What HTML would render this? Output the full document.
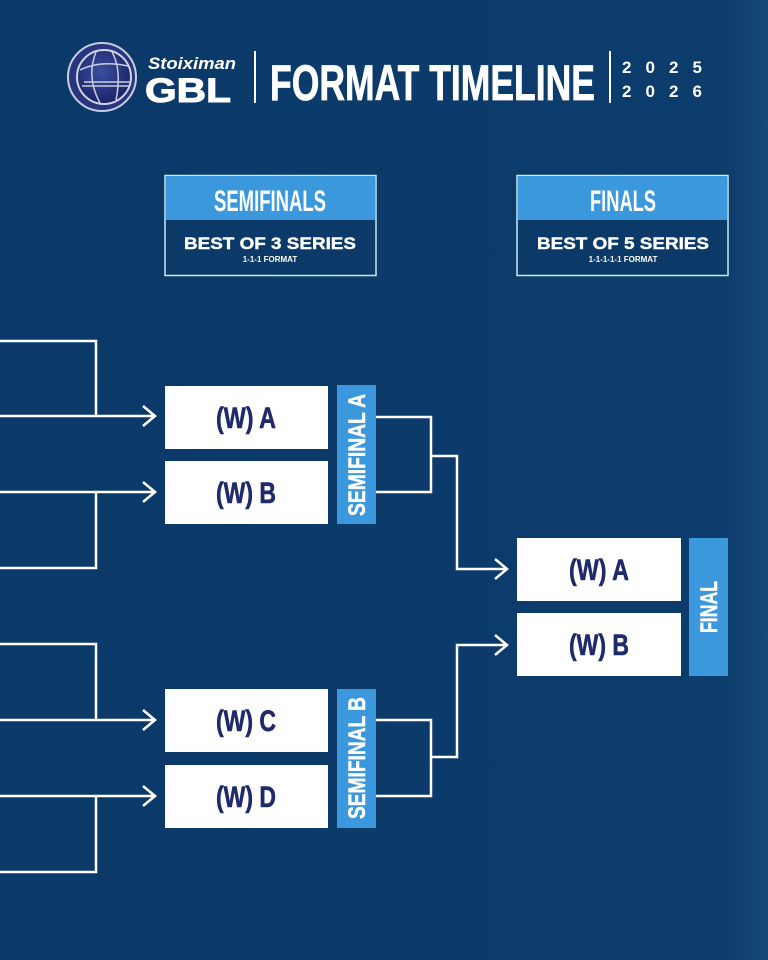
<!DOCTYPE html>
<html><head><meta charset="utf-8"><style>
html,body{margin:0;padding:0;background:#0b3a69;}
svg{display:block}
</style></head><body>
<svg width="768" height="960" viewBox="0 0 768 960" xmlns="http://www.w3.org/2000/svg">
<defs>
<linearGradient id="bg" x1="0" y1="0" x2="1" y2="0">
<stop offset="0" stop-color="#0b3a69"/><stop offset="0.94" stop-color="#0c3c6c"/><stop offset="1" stop-color="#164879"/>
</linearGradient>
<radialGradient id="ball" cx="0.45" cy="0.4" r="0.6">
<stop offset="0" stop-color="#3a4fa0"/><stop offset="1" stop-color="#1a2466"/>
</radialGradient>
</defs>
<rect width="768" height="960" fill="url(#bg)"/>

<!-- logo -->
<circle cx="102" cy="77" r="34" fill="#2a3580" stroke="#c9cde0" stroke-width="2"/>
<circle cx="104" cy="77" r="27" fill="url(#ball)" stroke="#d0d4e6" stroke-width="2"/>
<path d="M80 70 Q100 60 128 66 M82 86 L130 86 M84 82 L130 82 M96 52 Q86 77 100 103 M112 52 Q122 70 116 100" stroke="#c9cde0" stroke-width="1.5" fill="none"/>
<text x="192" y="69" font-family="Liberation Sans, sans-serif" font-weight="bold" font-style="italic" font-size="17" fill="#fff" text-anchor="middle" textLength="88" lengthAdjust="spacingAndGlyphs">Stoiximan</text>
<text x="188" y="102" font-family="Liberation Sans, sans-serif" font-weight="bold" font-size="34" fill="#fff" stroke="#fff" stroke-width="1" text-anchor="middle" textLength="86" lengthAdjust="spacingAndGlyphs">GBL</text>
<rect x="254" y="51" width="2" height="52" fill="#fff"/>
<text x="270" y="100" font-family="Liberation Sans, sans-serif" font-weight="bold" font-size="50" fill="#fff" stroke="#fff" stroke-width="0.8" textLength="325" lengthAdjust="spacingAndGlyphs">FORMAT TIMELINE</text>
<rect x="609" y="51" width="2" height="52" fill="#fff"/>
<text x="622" y="73" font-family="Liberation Sans, sans-serif" font-weight="bold" font-size="17" fill="#fff" textLength="80" lengthAdjust="spacing">2025</text>
<text x="622" y="97" font-family="Liberation Sans, sans-serif" font-weight="bold" font-size="17" fill="#fff" textLength="80" lengthAdjust="spacing">2026</text>

<!-- header boxes -->
<g font-family="Liberation Sans, sans-serif" fill="#fff" text-anchor="middle">
<rect x="165" y="175.5" width="211" height="100" fill="#0b3a69" stroke="#cfe6f7" stroke-width="1.5"/>
<rect x="166" y="176" width="209" height="44" fill="#3b98dd"/>
<text x="270" y="211" font-size="30" font-weight="bold" textLength="112" lengthAdjust="spacingAndGlyphs">SEMIFINALS</text>
<text x="270" y="249" font-size="17" font-weight="bold" stroke="#fff" stroke-width="0.4" textLength="172" lengthAdjust="spacingAndGlyphs">BEST OF 3 SERIES</text>
<text x="270" y="262" font-size="8" font-weight="bold">1-1-1 FORMAT</text>

<rect x="517" y="175.5" width="211" height="100" fill="#0b3a69" stroke="#cfe6f7" stroke-width="1.5"/>
<rect x="518" y="176" width="209" height="44" fill="#3b98dd"/>
<text x="623" y="211" font-size="30" font-weight="bold" textLength="66" lengthAdjust="spacingAndGlyphs">FINALS</text>
<text x="623" y="249" font-size="17" font-weight="bold" stroke="#fff" stroke-width="0.4" textLength="172" lengthAdjust="spacingAndGlyphs">BEST OF 5 SERIES</text>
<text x="623" y="262" font-size="8" font-weight="bold">1-1-1-1-1 FORMAT</text>
</g>

<!-- connectors -->
<g stroke="#fff" stroke-width="2.5" fill="none">
<polyline points="0,341 96,341 96,416"/>
<line x1="0" y1="416" x2="155" y2="416"/>
<polyline points="143,406 155,416 143,426"/>
<line x1="0" y1="492" x2="155" y2="492"/>
<polyline points="143,482 155,492 143,502"/>
<polyline points="96,492 96,568 0,568"/>

<polyline points="0,644 96,644 96,720"/>
<line x1="0" y1="720" x2="155" y2="720"/>
<polyline points="143,710 155,720 143,730"/>
<line x1="0" y1="796" x2="155" y2="796"/>
<polyline points="143,786 155,796 143,806"/>
<polyline points="96,796 96,872 0,872"/>

<polyline points="376,417 431,417 431,492 376,492"/>
<polyline points="431,456 457,456 457,569 507,569"/>
<polyline points="495,559 507,569 495,579"/>

<polyline points="376,720 431,720 431,796 376,796"/>
<polyline points="431,757 457,757 457,645 507,645"/>
<polyline points="495,635 507,645 495,655"/>
</g>

<!-- match boxes -->
<g font-family="Liberation Sans, sans-serif" font-weight="bold" font-size="30" fill="#1f2a6b" stroke="#1f2a6b" stroke-width="0.6" text-anchor="middle">
<rect x="165" y="386" width="163" height="63" fill="#fff" stroke="none"/>
<text x="246" y="428" textLength="60" lengthAdjust="spacingAndGlyphs">(W) A</text>
<rect x="165" y="461" width="163" height="63" fill="#fff" stroke="none"/>
<text x="246" y="503" textLength="60" lengthAdjust="spacingAndGlyphs">(W) B</text>
<rect x="165" y="689" width="163" height="63" fill="#fff" stroke="none"/>
<text x="246" y="731" textLength="60" lengthAdjust="spacingAndGlyphs">(W) C</text>
<rect x="165" y="765" width="163" height="63" fill="#fff" stroke="none"/>
<text x="246" y="807" textLength="60" lengthAdjust="spacingAndGlyphs">(W) D</text>
<rect x="517" y="538" width="164" height="63" fill="#fff" stroke="none"/>
<text x="599" y="580" textLength="60" lengthAdjust="spacingAndGlyphs">(W) A</text>
<rect x="517" y="613" width="164" height="63" fill="#fff" stroke="none"/>
<text x="599" y="655" textLength="60" lengthAdjust="spacingAndGlyphs">(W) B</text>
</g>

<!-- side labels -->
<g font-family="Liberation Sans, sans-serif" font-weight="bold" font-size="24" fill="#fff" text-anchor="middle">
<rect x="337" y="385" width="39" height="139" fill="#3b98dd"/>
<text transform="translate(365,455) rotate(-90)" stroke="#fff" stroke-width="0.5" textLength="122" lengthAdjust="spacingAndGlyphs">SEMIFINAL A</text>
<rect x="337" y="689" width="39" height="139" fill="#3b98dd"/>
<text transform="translate(365,758) rotate(-90)" stroke="#fff" stroke-width="0.5" textLength="122" lengthAdjust="spacingAndGlyphs">SEMIFINAL B</text>
<rect x="689" y="538" width="39" height="138" fill="#3b98dd"/>
<text transform="translate(717,607) rotate(-90)" stroke="#fff" stroke-width="0.5" textLength="52" lengthAdjust="spacingAndGlyphs">FINAL</text>
</g>
</svg>
</body></html>
